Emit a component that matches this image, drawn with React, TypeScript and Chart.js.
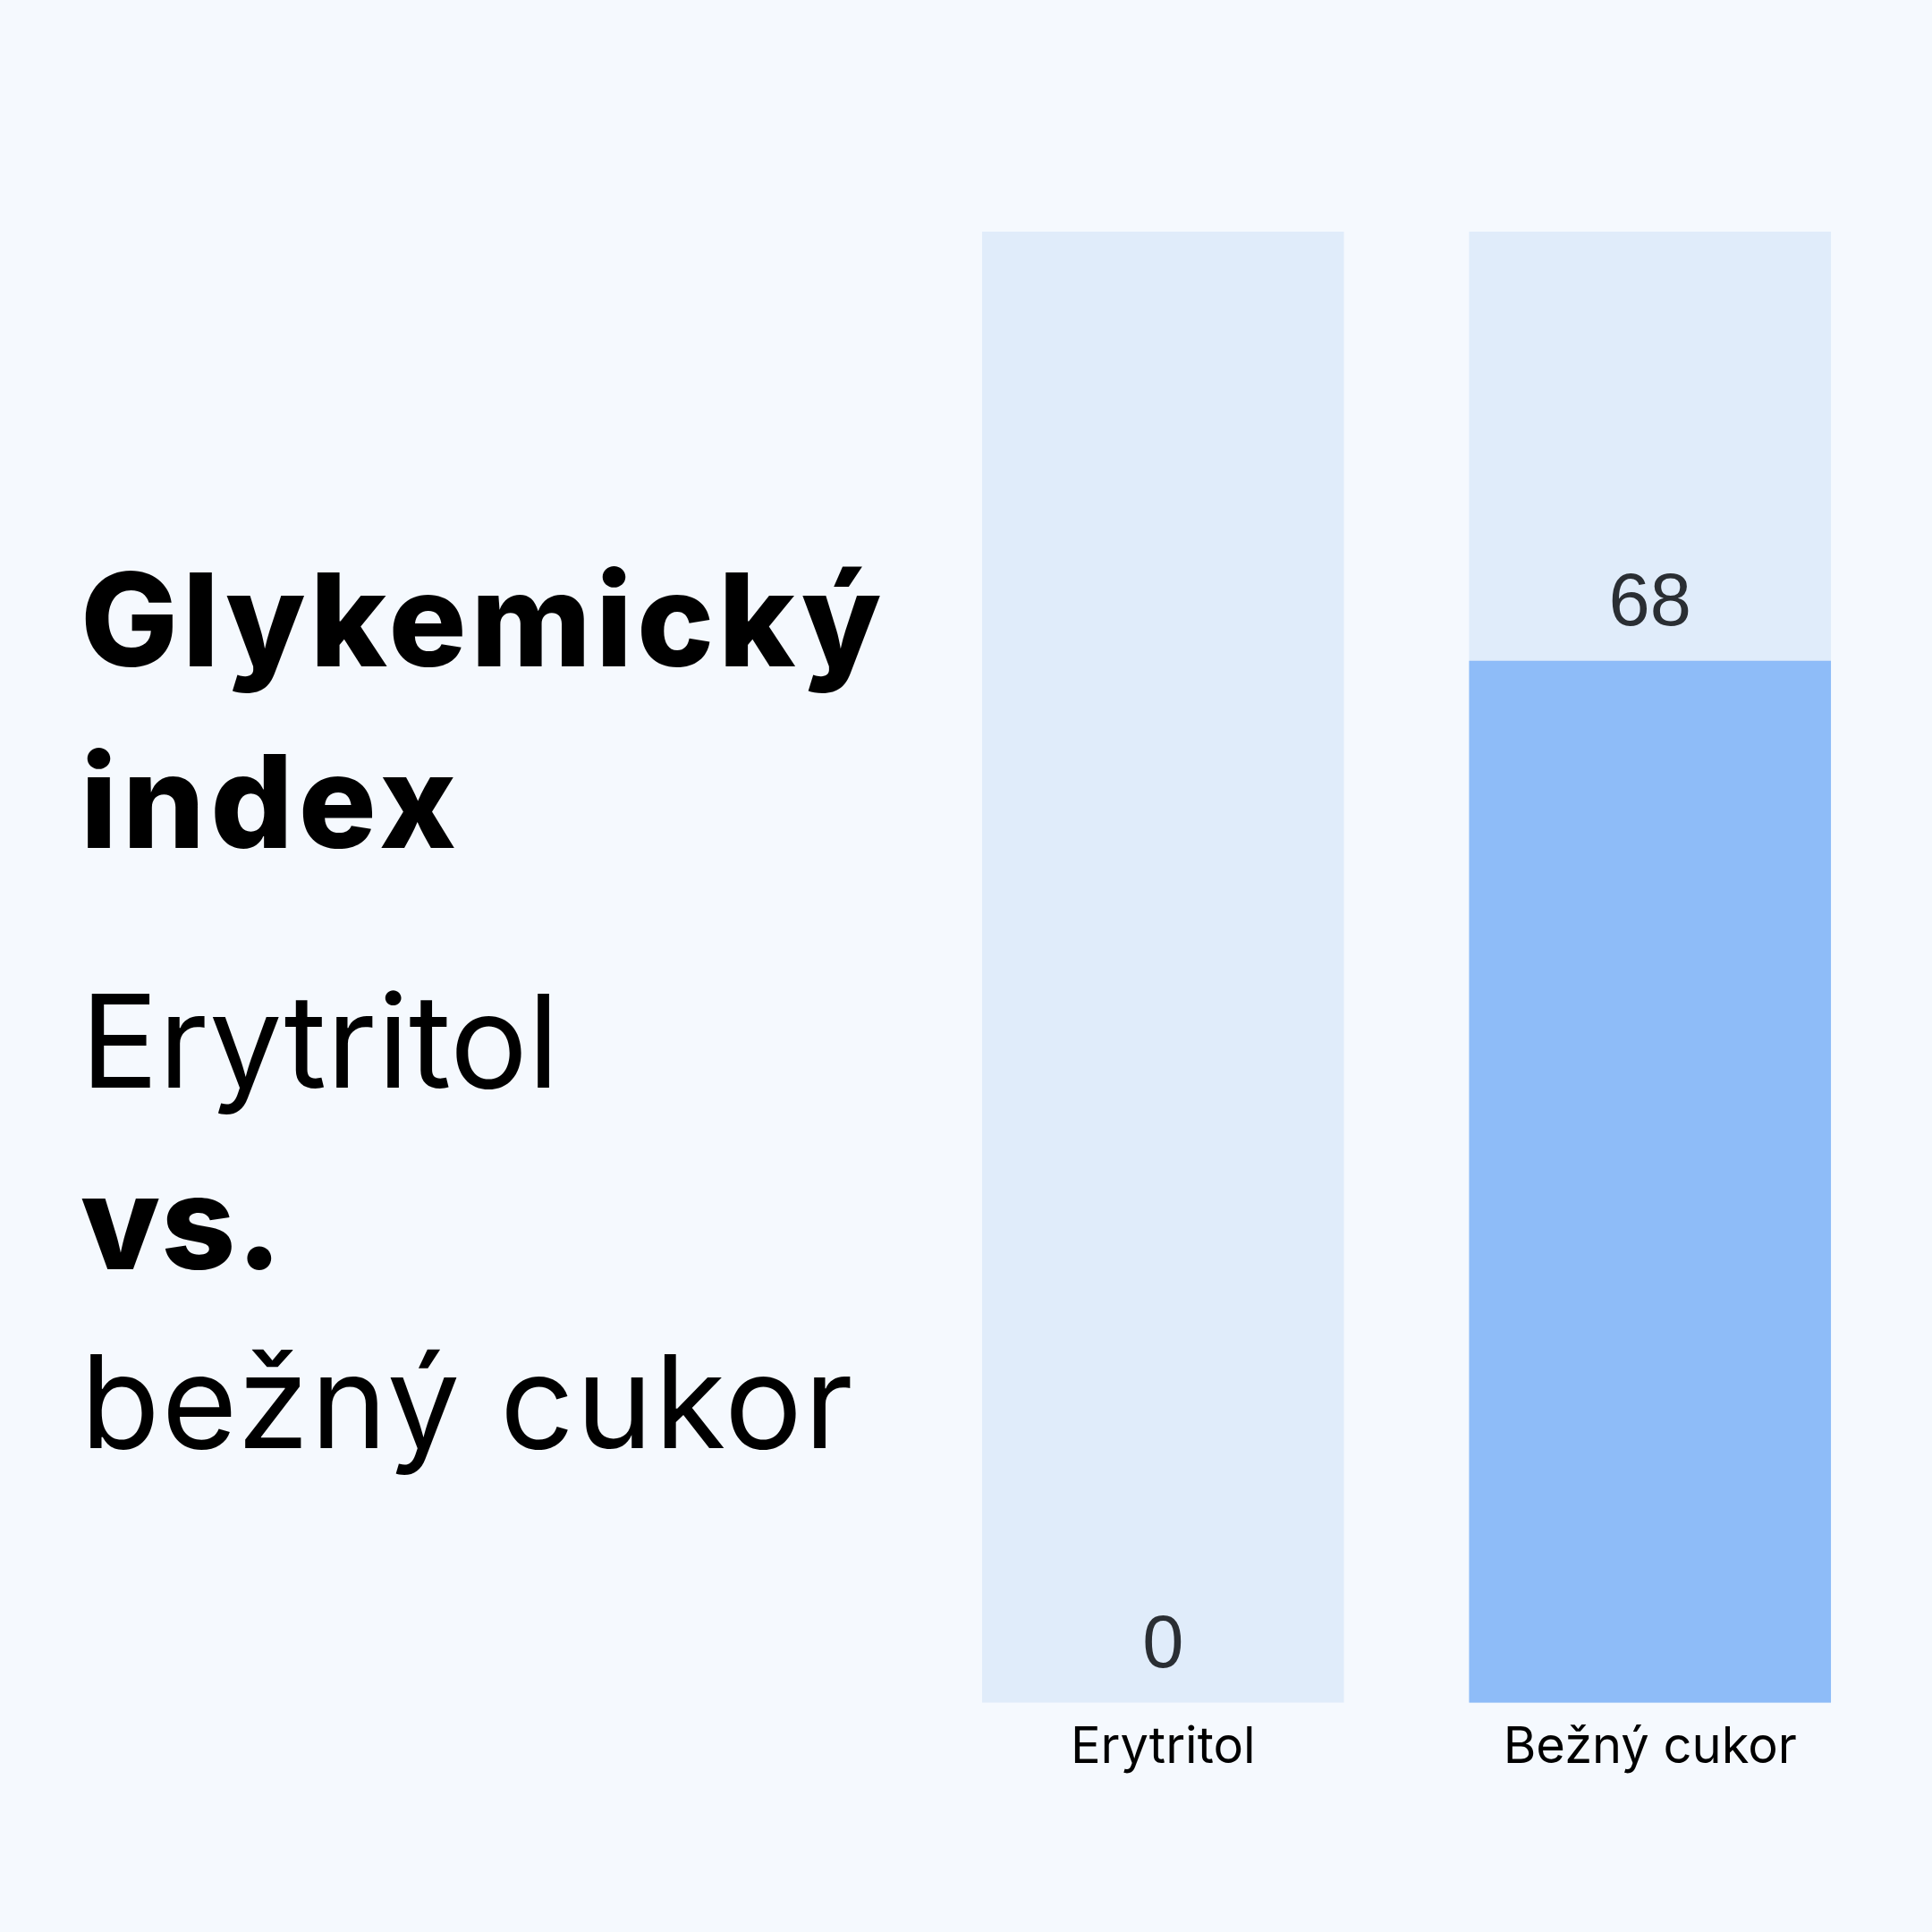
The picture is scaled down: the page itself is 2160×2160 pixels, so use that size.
import { useEffect, useRef } from "react";
import { Chart, registerables } from "chart.js";

Chart.register(...registerables);

// Glycemic index comparison
const categories = ["Erytritol", "Bežný cukor"];
const glycemicIndex = [0, 68];
const scaleMax = 96;
const trackValues = [scaleMax, scaleMax];

// Heading on the left, one entry per line
const headingTexts = ["Glykemický", "index", "Erytritol", "vs.", "bežný cukor"];
const headingWeights = [800, 800, 400, 800, 400];
const headingSpacing = [5, 6, 0, 1, 2];
const headingBaselines = [745, 948, 1216, 1419, 1619];

const PAGE_BG = "#f5f9fe";
const TRACK_COLOR = "#e0ecfa";
const FILL_COLOR = "#8ebcf8";

const HEADING_SIZE = 145;
const HEADING_FONT = 'Inter, "Noto Sans", sans-serif';

const valueLabels = {
  id: "valueLabels",
  afterDatasetsDraw(chart: any) {
    const meta = chart.getDatasetMeta(0);
    const values = chart.data.datasets[0].data as number[];
    const ctx = chart.ctx as CanvasRenderingContext2D;
    ctx.save();
    ctx.font = '83px "Liberation Sans", Arial, sans-serif';
    ctx.fillStyle = "#2a2e33";
    ctx.textAlign = "center";
    ctx.textBaseline = "alphabetic";
    meta.data.forEach((el: any, i: number) => {
      ctx.fillText(String(values[i]), el.x, el.y - 40);
    });
    ctx.restore();
  },
};

function GlycemicChart() {
  const canvasRef = useRef<HTMLCanvasElement | null>(null);

  useEffect(() => {
    const canvas = canvasRef.current;
    if (!canvas) return;
    const chart = new Chart(canvas, {
      type: "bar",
      data: {
        labels: categories,
        datasets: [
          {
            label: "Glykemický index",
            data: glycemicIndex,
            backgroundColor: FILL_COLOR,
            borderWidth: 0,
            grouped: false,
            barPercentage: 0.743,
            categoryPercentage: 1,
          },
          {
            label: "Rozsah",
            data: trackValues,
            backgroundColor: TRACK_COLOR,
            borderWidth: 0,
            grouped: false,
            barPercentage: 0.743,
            categoryPercentage: 1,
          },
        ],
      },
      options: {
        responsive: false,
        animation: false,
        devicePixelRatio: 1,
        layout: { padding: { left: 1028, right: 43, top: 259, bottom: 155 } },
        plugins: {
          legend: { display: false },
          tooltip: { enabled: false },
        },
        scales: {
          x: {
            grid: { display: false, drawTicks: false },
            border: { display: false },
            ticks: {
              color: "#000000",
              padding: 17,
              font: { family: HEADING_FONT, size: 56 },
            },
          },
          y: { display: false, min: 0, max: scaleMax },
        },
      },
      plugins: [valueLabels],
    });
    return () => chart.destroy();
  }, []);

  return (
    <canvas
      ref={canvasRef}
      width={2160}
      height={2160}
      style={{ position: "absolute", left: 0, top: 0, width: 2160, height: 2160 }}
    />
  );
}

export default function App() {
  return (
    <div
      style={{
        position: "absolute",
        left: 0,
        top: 0,
        width: 2160,
        height: 2160,
        background: PAGE_BG,
        overflow: "hidden",
      }}
    >
      {headingTexts.map((text, i) => (
        <div
          key={text}
          style={{
            position: "absolute",
            left: 90,
            top: headingBaselines[i] - 125,
            fontFamily: HEADING_FONT,
            fontWeight: headingWeights[i],
            fontSize: HEADING_SIZE,
            lineHeight: `${HEADING_SIZE}px`,
            letterSpacing: headingSpacing[i],
            color: "#000000",
            whiteSpace: "nowrap",
          }}
        >
          {text}
        </div>
      ))}
      <GlycemicChart />
    </div>
  );
}
